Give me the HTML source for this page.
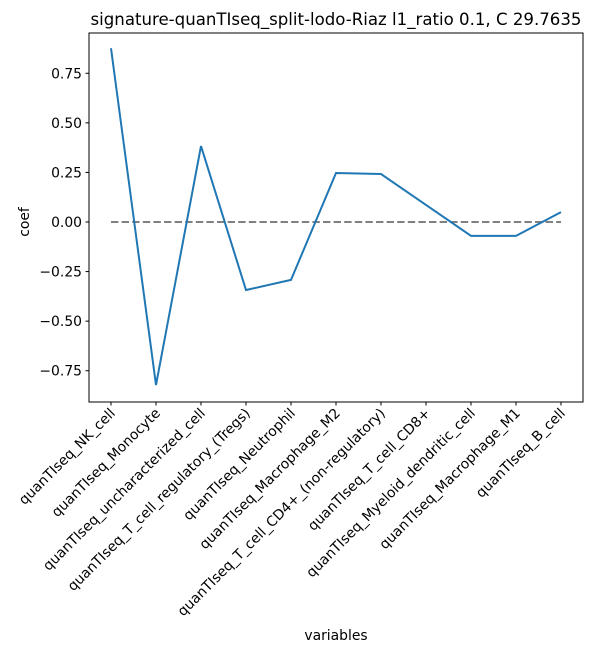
<!DOCTYPE html>
<html><head><meta charset="utf-8"><style>
body{margin:0;background:#fff;font-family:"DejaVu Sans","Liberation Sans",sans-serif}
text{font-family:"DejaVu Sans","Liberation Sans",sans-serif}
</style></head><body>
<svg id="chart" width="594" height="654" xmlns="http://www.w3.org/2000/svg">
<text x="336" y="25" text-anchor="middle" font-size="16.6">signature-quanTIseq_split-lodo-Riaz l1_ratio 0.1, C 29.7635</text>
<g id="plot"></g>
<rect x="89" y="33" width="494" height="369" fill="none" stroke="#000" stroke-width="1"/>
<text transform="translate(29,222) rotate(-90)" text-anchor="middle" font-size="13.9">coef</text>
<text x="336" y="640" text-anchor="middle" font-size="13.9">variables</text>
</svg>
<script>
const categories=["quanTIseq_NK_cell","quanTIseq_Monocyte","quanTIseq_uncharacterized_cell","quanTIseq_T_cell_regulatory_(Tregs)","quanTIseq_Neutrophil","quanTIseq_Macrophage_M2","quanTIseq_T_cell_CD4+_(non-regulatory)","quanTIseq_T_cell_CD8+","quanTIseq_Myeloid_dendritic_cell","quanTIseq_Macrophage_M1","quanTIseq_B_cell"];
const coefValues=[0.876,-0.822,0.383,-0.343,-0.292,0.247,0.242,0.086,-0.07,-0.07,0.05];
const yTicks=[-0.75,-0.5,-0.25,0,0.25,0.5,0.75];
const yTickLabels=["\u22120.75","\u22120.50","\u22120.25","0.00","0.25","0.50","0.75"];
const NS="http://www.w3.org/2000/svg";
const g=document.getElementById('plot');
const x=i=>111+i*(561-111)/(categories.length-1);
const y=v=>222-v*198.3;
function mk(t,a){const e=document.createElementNS(NS,t);for(const k in a)e.setAttribute(k,a[k]);g.appendChild(e);return e;}
yTicks.forEach((v,i)=>{
 const t=mk('line',{x1:85.5,x2:89,y1:y(v),y2:y(v),stroke:'#000'});
 
 
 const l=mk('text',{x:82,y:y(v)+5,'text-anchor':'end','font-size':13.9});
 
 
 l.textContent=yTickLabels[i];
});
categories.forEach((c,i)=>{
 const t=mk('line',{x1:x(i),x2:x(i),y1:402,y2:405.5,stroke:'#000'});
 
 
 const l=mk('text',{transform:`translate(${x(i)+5},${414}) rotate(-45)`,'text-anchor':'end','font-size':13.9});
 
 
 l.textContent=c;
});
const z=mk('line',{x1:x(0),x2:x(categories.length-1),y1:y(0),y2:y(0),stroke:'#808080','stroke-width':2,'stroke-dasharray':'7.4,3.2'});


const p=mk('polyline',{points:coefValues.map((v,i)=>x(i)+','+y(v)).join(' '),fill:'none',stroke:'#1f77b4','stroke-width':2});


</script>
</body></html>
